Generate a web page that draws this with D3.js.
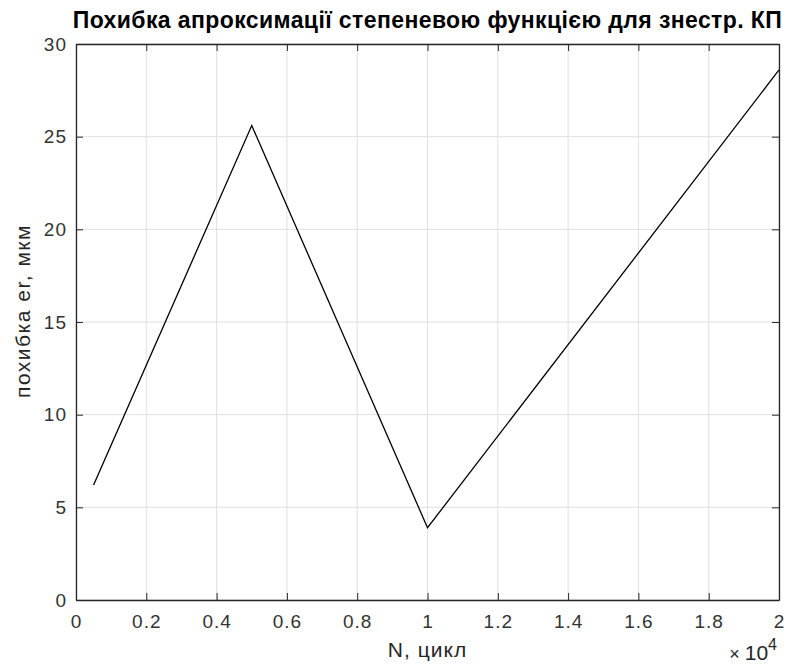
<!DOCTYPE html>
<html>
<head>
<meta charset="utf-8">
<script src="https://cdn.jsdelivr.net/npm/d3@7"></script>
<style>
  body { margin: 0; background: #fff; }
  text { font-family: "Liberation Sans", Arial, sans-serif; fill: #262626; }
</style>
</head>
<body>
<div id="chart"></div>
<script>
var width = 793;
var height = 664;

// дані
var cycles = [500, 5000, 10000, 20000];
var errors = [6.2, 25.6, 3.9, 28.6];
var xTicks = [0, 2000, 4000, 6000, 8000, 10000, 12000, 14000, 16000, 18000, 20000];
var yTicks = [0, 5, 10, 15, 20, 25, 30];

var margin = { top: 44, right: 14, bottom: 64, left: 76 };

const svg = d3.select("#chart").append("svg")
	.attr("width", width)
	.attr("height", height);

const x = d3.scaleLinear().domain([0, 20000]).range([margin.left, width - margin.right]);
const y = d3.scaleLinear().domain([0, 30]).range([height - margin.bottom, margin.top]);

// сітка
svg.append("g").selectAll("line")
	.data(xTicks)
	.enter().append("line")
	.attr("x1", d => x(d)).attr("x2", d => x(d))
	.attr("y1", y(0)).attr("y2", y(30))
	.style("stroke", "#e0e0e0").style("stroke-width", 1);

svg.append("g").selectAll("line")
	.data(yTicks)
	.enter().append("line")
	.attr("y1", d => y(d)).attr("y2", d => y(d))
	.attr("x1", x(0)).attr("x2", x(20000))
	.style("stroke", "#e0e0e0").style("stroke-width", 1);

// осі
const xAxis = svg.append("g")
	.attr("transform", `translate(0,${y(0)})`)
	.call(d3.axisBottom(x).tickValues(xTicks).tickSizeInner(-7).tickSizeOuter(0).tickPadding(15)
		.tickFormat(d => d3.format("~g")(d / 10000)));

const yAxis = svg.append("g")
	.attr("transform", `translate(${x(0)},0)`)
	.call(d3.axisLeft(y).tickValues(yTicks).tickSizeInner(-7).tickSizeOuter(0).tickPadding(9));

// верх і правий бік рамки
const xTop = svg.append("g")
	.attr("transform", `translate(0,${y(30)})`)
	.call(d3.axisTop(x).tickValues(xTicks).tickSizeInner(-7).tickSizeOuter(0).tickFormat(""));

const yRight = svg.append("g")
	.attr("transform", `translate(${x(20000)},0)`)
	.call(d3.axisRight(y).tickValues(yTicks).tickSizeInner(-7).tickSizeOuter(0).tickFormat(""));

[xAxis, yAxis, xTop, yRight].forEach(g => {
	g.select(".domain").style("stroke", "#262626").style("stroke-width", 1.3);
	g.selectAll(".tick line").style("stroke", "#262626");
	g.selectAll(".tick text").style("font-size", "19px").style("fill", "#333")
		.style("letter-spacing", "1px")
		.style("font-family", "'Liberation Sans', Arial, sans-serif");
});

// лінія
const line = d3.line()
	.x((d, i) => x(cycles[i]))
	.y(d => y(d));

svg.append("path")
	.datum(errors)
	.attr("d", line)
	.style("fill", "none")
	.style("stroke", "#000")
	.style("stroke-width", 1.3);

// підписи
svg.append("text")
	.attr("x", (x(0) + x(20000)) / 2)
	.attr("y", 28)
	.attr("text-anchor", "middle")
	.style("font-size", "23px")
	.style("letter-spacing", "0.4px")
	.style("font-weight", "bold")
	.style("fill", "#000")
	.text("Похибка апроксимації степеневою функцією для знестр. КП");

svg.append("text")
	.attr("x", (x(0) + x(20000)) / 2)
	.attr("y", 657)
	.attr("text-anchor", "middle")
	.style("font-size", "21px")
	.style("letter-spacing", "1px")
	.text("N, цикл");

svg.append("text")
	.attr("transform", `translate(30,311) rotate(-90)`)
	.attr("text-anchor", "middle")
	.style("font-size", "21px")
	.style("letter-spacing", "1.5px")
	.text("похибка er, мкм");

const expo = svg.append("text")
	.attr("x", x(20000) - 2)
	.attr("y", 660)
	.attr("text-anchor", "end")
	.style("font-size", "21px");
expo.append("tspan").style("font-size", "18px").text("× ");
expo.append("tspan").text("10");
expo.append("tspan").attr("dy", -10).style("font-size", "16px").text("4");
</script>
</body>
</html>
